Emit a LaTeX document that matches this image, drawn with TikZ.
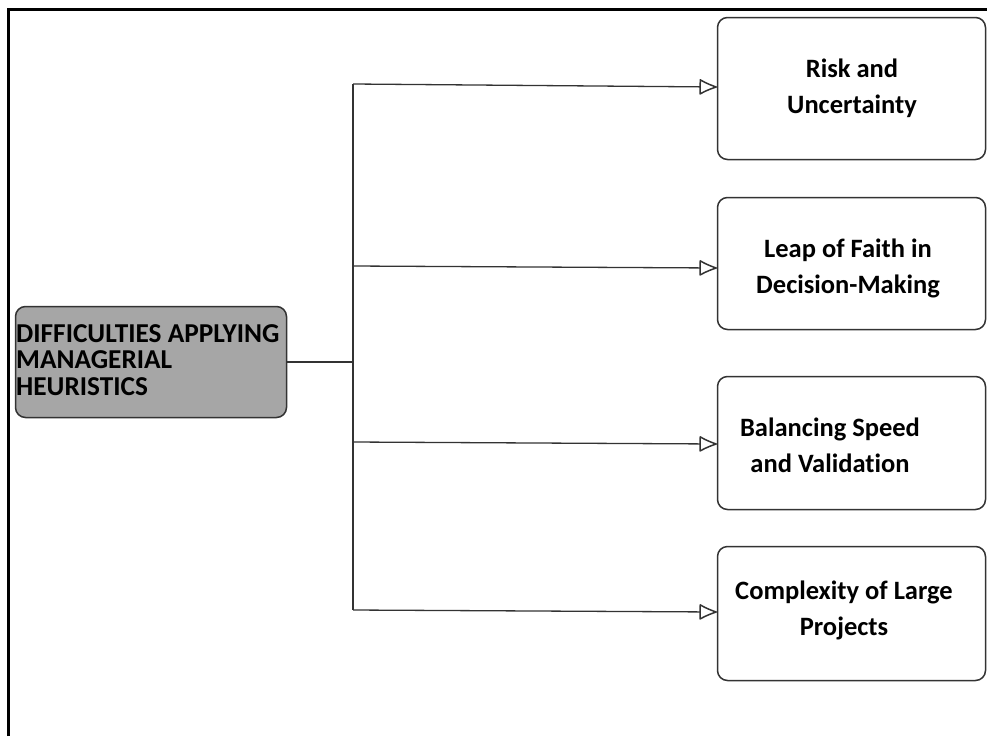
\documentclass[tikz,border=0pt]{standalone}
\usepackage{fontspec}
\setmainfont{Carlito}[Ligatures=NoCommon]
\usetikzlibrary{arrows.meta}
\definecolor{edgegray}{HTML}{333333}
\definecolor{rootfill}{HTML}{A6A6A6}
\tikzset{
  rootbox/.style={draw=edgegray, line width=1.5pt, fill=rootfill, rounded corners=10pt,
    minimum width=271pt, minimum height=111pt, inner sep=0pt},
  leafbox/.style={draw=edgegray, line width=1.5pt, fill=white, rounded corners=10pt,
    minimum width=268pt, inner sep=0pt},
  leaftext/.style={align=center, inner sep=0pt, font=\bfseries\fontsize{26.5}{36}\selectfont},
  roottext/.style={align=left, inner sep=0pt, anchor=west, font=\bfseries\fontsize{27.3}{26.5}\selectfont},
  link/.style={draw=edgegray, line width=1.3pt},
  tiplink/.style={link, -{Latex[open, round, length=15pt, width=13pt, line width=1.5pt, scale=1.3]}},
}
\begin{document}
\begin{tikzpicture}[x=1pt, y=-1pt]
\useasboundingbox (0,0) rectangle (987,736);
% outer frame (top and left edges)
\draw[line width=3pt] (8.5,736) -- (8.5,9.5) -- (987,9.5);

% root box
\node[rootbox] (root) at (151,362) {};
\node[roottext] (roottxt) at (16,360) {DIFFICULTIES APPLYING\\MANAGERIAL\\HEURISTICS};

% leaf boxes
\node[leafbox, minimum height=142pt] (b1) at (851.5,88.5) {};
\node[leafbox, minimum height=132pt] (b2) at (851.5,263.5) {};
\node[leafbox, minimum height=133pt] (b3) at (851.5,443) {};
\node[leafbox, minimum height=134pt] (b4) at (851.5,613.5) {};

\node[leaftext] (t1) at (852,88) {Risk and\\Uncertainty};
\node[leaftext] (t2) at (848,268) {Leap of Faith in\\Decision-Making};
\node[leaftext] (t3) at (830,445) {Balancing Speed\\and Validation};
\node[leaftext] (t4) at (844,610) {Complexity of Large\\Projects};

% trunk points and arrow ends
\coordinate (hub) at (353,362);
\coordinate (j1) at (353,84);
\coordinate (j2) at (353,266);
\coordinate (j3) at (353,442);
\coordinate (j4) at (353,610);
\coordinate (e1) at (717,87);
\coordinate (e2) at (717,268);
\coordinate (e3) at (717,444);
\coordinate (e4) at (717,612);

% connectors
\draw[link] (root.east |- hub) -- (hub);
\draw[link] (j1) -- (j4);
\draw[tiplink] (j1) -- (e1);
\draw[tiplink] (j2) -- (e2);
\draw[tiplink] (j3) -- (e3);
\draw[tiplink] (j4) -- (e4);
\end{tikzpicture}
\end{document}
